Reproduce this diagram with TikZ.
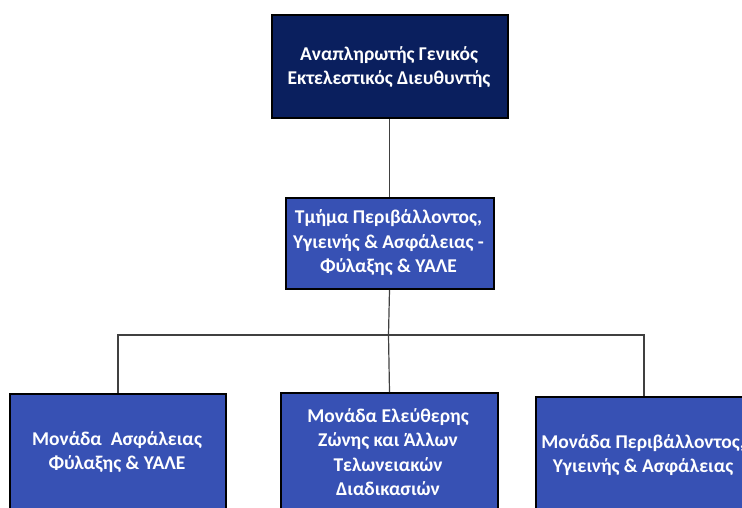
\documentclass[tikz,border=0pt]{standalone}
\usepackage{fontspec}
\setmainfont{Carlito}
\begin{document}
\begin{tikzpicture}[x=1pt,y=-1pt,
  box/.style={draw=black,line width=2pt,fill=midblue,inner sep=0pt,anchor=north west},
  lbl/.style={text=white,font=\bfseries\fontsize{19.5}{24.5}\selectfont,align=center,inner sep=0pt},
  conn/.style={draw=linegray,line width=1.2pt}]
\definecolor{navy}{HTML}{0A1F5E}
\definecolor{midblue}{HTML}{3751B4}
\definecolor{linegray}{HTML}{404040}
\useasboundingbox (0,0) rectangle (742,507);
\node[box,fill=navy,minimum width=236pt,minimum height=103pt] (top) at (270.5,14) {};
\node[lbl] (tt) at (389,67) {Αναπληρωτής Γενικός\\Εκτελεστικός Διευθυντής};
\node[box,minimum width=208pt,minimum height=91pt] (mid) at (284.5,197) {};
\node[lbl] (mt) at (388.5,243) {Τμήμα Περιβάλλοντος,\\Υγιεινής \& Ασφάλειας -\\Φύλαξης \& ΥΑΛΕ};
\node[box,minimum width=216pt,minimum height=140pt] (b1) at (9,393) {};
\node[box,minimum width=217pt,minimum height=140pt] (b2) at (280,392) {};
\node[box,minimum width=216pt,minimum height=140pt] (b3) at (535,396) {};
\node[lbl] (t1) at (117,452) {Μονάδα~ Ασφάλειας\\Φύλαξης \& ΥΑΛΕ};
\node[lbl] (t2) at (388,452) {Μονάδα Ελεύθερης\\Ζώνης και Άλλων\\Τελωνειακών\\Διαδικασιών};
\node[lbl] (t3) at (643,455) {Μονάδα Περιβάλλοντος,\\Υγιεινής \& Ασφάλειας};
\coordinate (j) at (388.5,335);
\draw[conn] (top.south) -- (mid.north);
\draw[conn] (mid.south) -- (j);
\draw[conn] (j) -| (b1.north);
\draw[conn] (j) -- (b2.north);
\draw[conn] (j) -| (b3.north);
\end{tikzpicture}
\end{document}
